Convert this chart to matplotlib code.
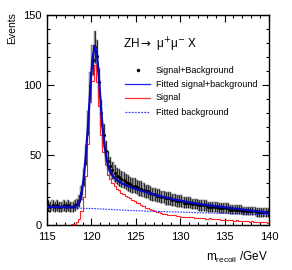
import matplotlib
matplotlib.use('Agg')
import matplotlib.pyplot as plt
import numpy as np

plt.rcParams['font.family'] = ['Liberation Sans', 'DejaVu Sans']

# binning: 100 bins of 0.25 GeV from 115 to 140
bin_lo = 115.0
bin_w = 0.25

data = [14, 13, 14, 13, 14, 13, 13, 14, 13, 14, 13, 13, 14,
        15, 17, 23, 34, 50, 73, 99, 118, 127, 121, 102, 80, 64, 53, 46, 42, 39,
        37, 35, 34, 33, 32, 31, 30, 29, 28, 28, 27, 26, 26, 25, 24, 24, 23, 22,
        22, 21, 21, 20, 20, 19, 19, 19, 18, 18, 17, 17, 17, 16, 16, 16, 16, 15,
        15, 15, 14, 14, 14, 14, 13, 13, 13, 13, 13, 12, 12, 12, 12, 12, 11, 11,
        11, 11, 11, 11, 10, 10, 10, 10, 10, 10, 9, 9, 9, 9, 9, 9]

signal = [0, 0, 0, 0, 0, 0, 0, 0, 0, 0, 0.2, 0.5, 1,
          2, 4, 10, 20, 35, 58, 88, 103, 114, 102, 85, 64, 52, 43, 36, 33, 30,
          28, 26, 25, 23, 22, 21, 20, 19, 18, 17, 16, 15.5, 14.5, 13.5, 12.5, 12,
          11.5, 10.5, 10, 9.5, 9, 8.5, 8, 8, 7.5, 7.2, 7, 6.8, 6.5, 6.2, 6, 6,
          5.7, 5.5, 5.4, 5.6, 5.2, 5.0, 5.0, 4.8, 4.9, 4.6, 4.5, 4.7, 4.3, 4.2,
          4.0, 4.1, 3.8, 3.7, 3.6, 3.5, 3.6, 3.3, 3.2, 3.3, 3.0, 3.0, 2.8, 2.9,
          2.6, 2.5, 2.6, 2.3, 2.2, 2.2, 2.0, 1.9, 1.8, 1.6]

fit = [13.0, 13.0, 13.0, 13.0, 13.0, 13.0, 13.0, 13.0, 13.0, 13.0, 13.0, 13.0, 13.1,
       13.5, 16, 22, 33, 50, 72, 98, 119, 128, 122, 103, 80, 62, 50, 42, 38, 35.5,
       33.5, 32, 31, 30, 29.2, 28.5, 27.8, 27.2, 26.6, 26, 25.5, 25, 24.5,
       24.0, 23.5, 23.0, 22.5, 22.0, 21.6, 21.2, 20.8, 20.4, 20.0, 19.6, 19.2,
       18.9, 18.5, 18.2, 17.9, 17.6, 17.3, 17.0, 16.7, 16.4, 16.1, 15.9, 15.6,
       15.3, 15.1, 14.8, 14.6, 14.4, 14.2, 14.0, 13.8, 13.6, 13.4, 13.2, 13.0,
       12.8, 12.6, 12.4, 12.2, 12.0, 11.8, 11.6, 11.4, 11.2, 11.0, 10.8, 10.6,
       10.4, 10.2, 10.0, 9.8, 9.6, 9.4, 9.2, 9.0, 8.8]

bkg_x = [115, 120, 125, 130, 135, 140]
bkg_y = [12.5, 11.8, 10.2, 9.2, 8.2, 7.3]

data = np.array(data, dtype=float)
signal = np.array(signal, dtype=float)
fit = np.array(fit, dtype=float)
nb = len(data)
edges = bin_lo + bin_w * np.arange(nb + 1)
centers = edges[:-1] + bin_w / 2
err = np.sqrt(data)

fig = plt.figure(figsize=(2.92, 2.70), dpi=100)
ax = fig.add_axes([47/292, 45/270, 222/292, 210/270])

# gray error boxes
ax.bar(centers, 2*err, bottom=data-err, width=bin_w, color='#a0a0a0',
       edgecolor='#505050', linewidth=0.3, zorder=1)
ax.errorbar(centers, data, yerr=err, fmt='o', color='black', ms=1.2,
            elinewidth=0.5, capsize=0, zorder=2)

ax.plot(centers, fit, color='#0808c0', lw=1.6, zorder=4)
ax.stairs(signal, edges, color='#ff2020', lw=0.8, zorder=3)
ax.plot(bkg_x, bkg_y, color='#3030ff', lw=0.8, ls=(0, (1.5, 1)), zorder=3)

ax.set_xlim(115, 140)
ax.set_ylim(0, 150)
ax.set_xticks([115, 120, 125, 130, 135, 140])
ax.set_yticks([0, 50, 100, 150])
ax.set_xticks(np.arange(115, 141, 1), minor=True)
ax.set_yticks(np.arange(0, 151, 10), minor=True)
ax.tick_params(which='both', direction='in', top=True, right=True,
               labelsize=8, width=0.8)
ax.tick_params(which='major', length=5)
ax.tick_params(which='minor', length=2.5)
ax.tick_params(axis='x', pad=5)
ax.tick_params(axis='y', pad=4)
for s in ax.spines.values():
    s.set_linewidth(1.0)

# legend drawn by hand
ax.text(0.342, 0.857, 'ZH$\\rightarrow$ \u03bc$^{+}$\u03bc$^{-}$ X', transform=ax.transAxes,
        fontsize=8.5, va='center', ha='left')
rows = [0.738, 0.671, 0.605, 0.538]
labels = ['Signal+Background', 'Fitted signal+background', 'Signal', 'Fitted background']
ax.plot([0.41], [rows[0]], 'o', color='black', ms=1.5, transform=ax.transAxes)
ax.plot([0.351, 0.464], [rows[1]]*2, color='#2020ff', lw=0.9, transform=ax.transAxes)
ax.plot([0.351, 0.464], [rows[2]]*2, color='#ff3030', lw=0.9, transform=ax.transAxes)
ax.plot([0.351, 0.464], [rows[3]]*2, color='#4040ff', lw=0.9, ls=(0, (1.5, 1)),
        transform=ax.transAxes)
for r, lab in zip(rows, labels):
    ax.text(0.491, r, lab, transform=ax.transAxes, fontsize=6.5, va='center', ha='left')

fig.text(12/292, 1 - 12/270, 'Events', rotation=90, fontsize=7.5, ha='center', va='top')
fig.text(268/292, 1 - 257/270, r'm$_{\mathregular{recoil}}$ /GeV', fontsize=8.5,
         ha='right', va='center')

fig.savefig('out.png', dpi=100)
